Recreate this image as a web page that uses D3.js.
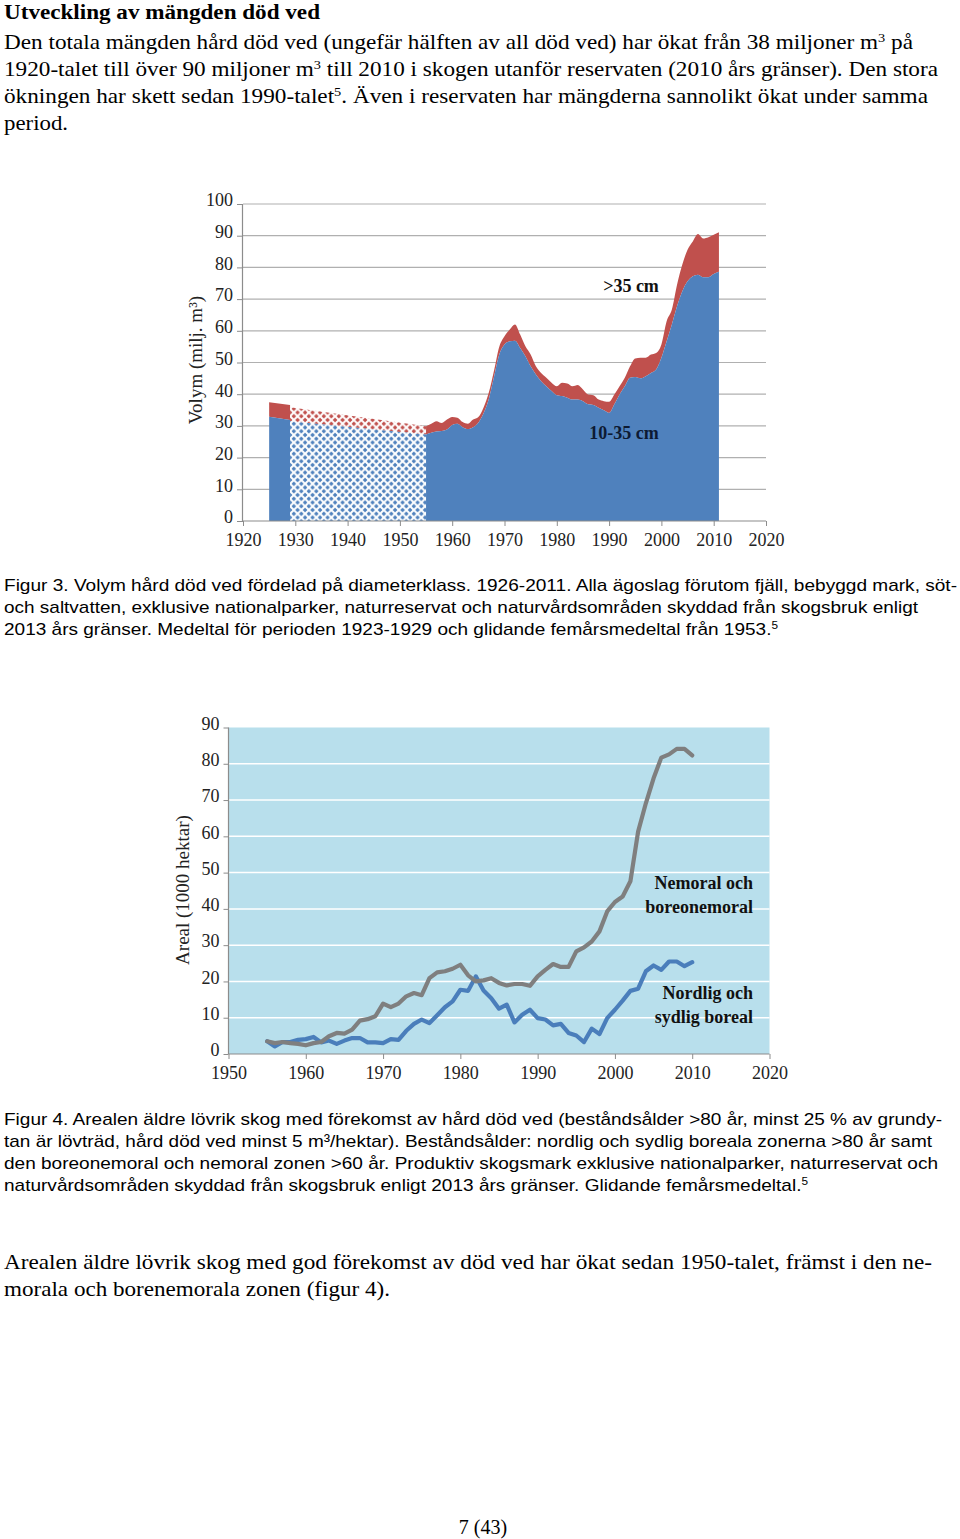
<!DOCTYPE html>
<html><head><meta charset="utf-8">
<script src="https://cdn.jsdelivr.net/npm/d3@7"></script>
<style>
html,body{margin:0;padding:0;background:#fff;}
svg{display:block;}
.serif{font-family:"Liberation Serif","Times New Roman",serif;}
.sans{font-family:"Liberation Sans",Arial,sans-serif;}
</style></head>
<body>
<script>
// ---------- Figure 3 data ----------
const fig3Years = d3.range(1955, 2012);
const fig3Small = [27.3,27.8,28.2,28.4,28.9,30.3,30.7,29.6,29.0,29.6,31.0,34.0,38.5,45.5,52.5,55.7,56.7,56.9,54.6,52.0,48.8,46.2,44.1,42.5,41.0,39.7,39.4,38.9,38.3,38.3,37.8,36.8,36.6,35.7,34.9,34.1,36.8,39.9,42.5,45.2,45.4,45.0,45.7,46.7,47.8,51.5,56.7,62.0,67.8,72.5,75.6,77.2,77.7,76.9,76.9,77.9,78.6];
const fig3Large = [2.6,2.9,3.3,2.5,3.1,2.5,1.9,1.6,1.7,2.4,1.8,1.8,2.0,2.0,2.5,2.6,3.7,5.1,4.2,3.1,3.7,2.6,2.6,2.7,2.6,2.8,4.2,4.5,4.2,4.6,3.7,3.1,3.1,2.6,2.9,3.5,3.1,2.6,2.7,3.6,5.9,6.5,5.8,5.8,5.2,4.2,6.3,4.7,6.8,8.4,10.0,11.0,12.8,12.2,12.6,12.4,12.5];
const early20sYears = [1925, 1929];
const early20sSmall = [32.9, 31.9];
const early20sLarge = [4.6, 4.7];
const gapYears = [1929, 1955];
const gapSmall = [31.5, 27.3];
const gapLarge = [4.4, 2.6];
const fig3YTicks = [0,10,20,30,40,50,60,70,80,90,100];
const fig3XTicks = [1920,1930,1940,1950,1960,1970,1980,1990,2000,2010,2020];

// ---------- Figure 4 data ----------
const fig4Years = d3.range(1955, 2011);
const nemoral = [3.5,3.0,3.3,3.0,2.8,2.4,3.0,3.3,4.9,5.8,5.6,6.7,9.2,9.6,10.4,13.9,12.9,13.9,15.9,16.8,16.2,20.9,22.5,22.8,23.5,24.6,21.7,20.0,20.3,20.9,19.6,18.9,19.3,19.3,18.8,21.4,23.2,24.8,24.0,24.0,28.3,29.4,31.0,33.8,39.3,41.9,43.4,47.6,61.3,69.1,76.0,81.7,82.6,84.1,84.1,82.3];
const boreal = [3.5,2.1,3.3,3.3,3.9,4.1,4.7,3.2,3.7,2.8,3.7,4.4,4.4,3.2,3.2,3.0,4.1,3.9,6.4,8.3,9.5,8.5,10.7,12.9,14.5,17.7,17.4,21.4,17.5,15.4,12.5,13.6,8.7,10.8,12.2,9.9,9.5,7.9,8.3,5.8,5.1,3.3,7.0,5.5,9.9,12.2,14.7,17.4,18.0,22.8,24.4,23.2,25.5,25.5,24.2,25.3];
const fig4YTicks = [0,10,20,30,40,50,60,70,80,90];
const fig4XTicks = [1950,1960,1970,1980,1990,2000,2010,2020];

const BLUE = "#4f81bd", RED = "#c0504d";

const svg = d3.select("body").append("svg").attr("width",960).attr("height",1539);

// ---------- page text ----------
function textLine(x, y, cls, size, parts, len, weight) {
  const t = svg.append("text").attr("class", cls).attr("x", x).attr("y", y)
    .attr("font-size", size).attr("fill", "#000");
  if (weight) t.attr("font-weight", weight);
  parts.forEach(p => {
    if (typeof p === "string") t.append("tspan").text(p);
    else t.append("tspan").attr("baseline-shift", "super").attr("font-size", size*0.62).text(p.sup);
  });
  if (len) t.attr("textLength", len).attr("lengthAdjust", "spacingAndGlyphs");
  return t;
}
textLine(4, 19, "serif", 20, ["Utveckling av mängden död ved"], 316, "bold");
textLine(4, 49, "serif", 21, ["Den totala mängden hård död ved (ungefär hälften av all död ved) har ökat från 38 miljoner m", {sup:"3"}, " på"], 909);
textLine(4, 76, "serif", 21, ["1920-talet till över 90 miljoner m", {sup:"3"}, " till 2010 i skogen utanför reservaten (2010 års gränser). Den stora"], 934);
textLine(4, 103, "serif", 21, ["ökningen har skett sedan 1990-talet", {sup:"5"}, ". Även i reservaten har mängderna sannolikt ökat under samma"], 924);
textLine(4, 130, "serif", 21, ["period."], 64);

textLine(4, 591, "sans", 17, ["Figur 3. Volym hård död ved fördelad på diameterklass. 1926-2011. Alla ägoslag förutom fjäll, bebyggd mark, söt-"], 953);
textLine(4, 613, "sans", 17, ["och saltvatten, exklusive nationalparker, naturreservat och naturvårdsområden skyddad från skogsbruk enligt"], 914);
textLine(4, 635, "sans", 17, ["2013 års gränser. Medeltal för perioden 1923-1929 och glidande femårsmedeltal från 1953.", {sup:"5"}], 774);

textLine(4, 1125, "sans", 17, ["Figur 4. Arealen äldre lövrik skog med förekomst av hård död ved (beståndsålder >80 år, minst 25 % av grundy-"], 938);
textLine(4, 1147, "sans", 17, ["tan är lövträd, hård död ved minst 5 m³/hektar). Beståndsålder: nordlig och sydlig boreala zonerna >80 år samt"], 928);
textLine(4, 1169, "sans", 17, ["den boreonemoral och nemoral zonen >60 år. Produktiv skogsmark exklusive nationalparker, naturreservat och"], 934);
textLine(4, 1191, "sans", 17, ["naturvårdsområden skyddad från skogsbruk enligt 2013 års gränser. Glidande femårsmedeltal.", {sup:"5"}], 804);

textLine(4, 1269, "serif", 21, ["Arealen äldre lövrik skog med god förekomst av död ved har ökat sedan 1950-talet, främst i den ne-"], 928);
textLine(4, 1296, "serif", 21, ["morala och borenemorala zonen (figur 4)."], 386);

svg.append("text").attr("class","serif").attr("x",483).attr("y",1534).attr("text-anchor","middle")
  .attr("font-size",20).text("7 (43)");

// ---------- Figure 3 ----------
const x3 = d3.scaleLinear().domain([1920, 2020]).range([243, 766]);
const y3 = d3.scaleLinear().domain([0, 100]).range([521, 204]);

const defs = svg.append("defs");
function diamondPattern(id, color) {
  const s = 7.5, r = 2.3;
  const p = defs.append("pattern").attr("id", id).attr("patternUnits","userSpaceOnUse")
    .attr("width", s).attr("height", s).attr("x", x3(1929)).attr("y", 0);
  p.append("rect").attr("width",s).attr("height",s).attr("fill","#fff");
  const d = (cx, cy) => `M${cx},${cy-r}L${cx+r},${cy}L${cx},${cy+r}L${cx-r},${cy}Z`;
  p.append("path").attr("d", d(0,0) + d(s,0) + d(0,s) + d(s,s) + d(s/2,s/2)).attr("fill", color);
}
diamondPattern("hatchBlue", BLUE);
diamondPattern("hatchRed", RED);

const g3 = svg.append("g");
g3.selectAll("line.grid").data(fig3YTicks.slice(1)).join("line")
  .attr("x1", x3(1920)).attr("x2", x3(2020)).attr("y1", d=>y3(d)).attr("y2", d=>y3(d))
  .attr("stroke","#b0b0b0").attr("stroke-width",1.2);

function stackedBands(years, small, large, fillSmall, fillLarge, curve) {
  const rows = years.map((yr,i)=>({yr, s:small[i], l:large[i]}));
  const aS = d3.area().curve(curve).x(d=>x3(d.yr)).y0(y3(0)).y1(d=>y3(d.s));
  const aL = d3.area().curve(curve).x(d=>x3(d.yr)).y0(d=>y3(d.s)).y1(d=>y3(d.s+d.l));
  g3.append("path").datum(rows).attr("d", aL).attr("fill", fillLarge);
  g3.append("path").datum(rows).attr("d", aS).attr("fill", fillSmall);
}
stackedBands(early20sYears, early20sSmall, early20sLarge, BLUE, RED, d3.curveLinear);
stackedBands(gapYears, gapSmall, gapLarge, "url(#hatchBlue)", "url(#hatchRed)", d3.curveLinear);
stackedBands(fig3Years, fig3Small, fig3Large, BLUE, RED, d3.curveMonotoneX);

const yAxis3 = d3.axisLeft(y3).tickValues(fig3YTicks).tickSize(5).tickFormat(d3.format("d"));
const xAxis3 = d3.axisBottom(x3).tickValues(fig3XTicks).tickSize(5).tickFormat(d3.format("d"));
const ya3 = svg.append("g").attr("transform",`translate(${x3(1920)-1},0)`).call(yAxis3);
const xa3 = svg.append("g").attr("transform",`translate(0,${y3(0)})`).call(xAxis3);
[ya3, xa3].forEach(a => {
  a.select(".domain").attr("stroke","#8c8c8c").attr("stroke-width",1.2);
  a.selectAll(".tick line").attr("stroke","#8c8c8c");
  a.selectAll("text").attr("class","serif").attr("font-size",18).attr("fill","#222");
});
ya3.selectAll("text").attr("x",-9).attr("dy","0.1em");
xa3.selectAll("text").attr("dy","1.05em").attr("y",6);
xa3.select(".domain").attr("d", `M${x3(1920)},0H${x3(2020)}`);

svg.append("text").attr("class","serif").attr("transform","translate(202,360) rotate(-90)")
  .attr("text-anchor","middle").attr("font-size",19).attr("fill","#222").text("Volym (milj. m³)");
svg.append("text").attr("class","serif").attr("x",631).attr("y",292).attr("text-anchor","middle")
  .attr("font-size",18).attr("font-weight","bold").attr("fill","#111").text(">35 cm");
svg.append("text").attr("class","serif").attr("x",624).attr("y",439).attr("text-anchor","middle")
  .attr("font-size",18).attr("font-weight","bold").attr("fill","#0d1a33").text("10-35 cm");

// ---------- Figure 4 ----------
const x4 = d3.scaleLinear().domain([1950, 2020]).range([228.5, 769.5]);
const y4 = d3.scaleLinear().domain([0, 90]).range([1054, 727.5]);
const g4 = svg.append("g");
g4.append("rect").attr("x", x4(1950)).attr("y", y4(90)).attr("width", x4(2020)-x4(1950))
  .attr("height", y4(0)-y4(90)).attr("fill", "#b8dfec");
g4.selectAll("line.grid").data(fig4YTicks.slice(1, -1)).join("line")
  .attr("x1", x4(1950)).attr("x2", x4(2020)).attr("y1", d=>y4(d)).attr("y2", d=>y4(d))
  .attr("stroke","#ffffff").attr("stroke-width",1.5);

const line4 = d3.line().x((d,i)=>x4(fig4Years[i])).y(d=>y4(d));
g4.append("path").datum(boreal).attr("d", line4).attr("fill","none").attr("stroke","#4a7ebb")
  .attr("stroke-width",4.2).attr("stroke-linejoin","round").attr("stroke-linecap","round");
g4.append("path").datum(nemoral).attr("d", line4).attr("fill","none").attr("stroke","#7f7f7f")
  .attr("stroke-width",4.2).attr("stroke-linejoin","round").attr("stroke-linecap","round");

const yAxis4 = d3.axisLeft(y4).tickValues(fig4YTicks).tickSize(5).tickFormat(d3.format("d"));
const xAxis4 = d3.axisBottom(x4).tickValues(fig4XTicks).tickSize(5).tickFormat(d3.format("d"));
const ya4 = svg.append("g").attr("transform",`translate(${x4(1950)},0)`).call(yAxis4);
const xa4 = svg.append("g").attr("transform",`translate(0,${y4(0)})`).call(xAxis4);
[ya4, xa4].forEach(a => {
  a.select(".domain").attr("stroke","#8c8c8c").attr("stroke-width",1.2);
  a.selectAll(".tick line").attr("stroke","#8c8c8c");
  a.selectAll("text").attr("class","serif").attr("font-size",18).attr("fill","#222");
});
ya4.selectAll("text").attr("x",-9).attr("dy","0.1em");
xa4.selectAll("text").attr("dy","1.05em").attr("y",6);
xa4.select(".domain").attr("d", `M${x4(1950)},0H${x4(2020)}`);
ya4.select(".domain").attr("d", `M0,${y4(90)}V${y4(0)}`);

svg.append("text").attr("class","serif").attr("transform","translate(189,890) rotate(-90)")
  .attr("text-anchor","middle").attr("font-size",19).attr("fill","#222").text("Areal (1000 hektar)");
[["Nemoral och",889],["boreonemoral",913],["Nordlig och",999],["sydlig boreal",1023]].forEach(([t,y])=>{
  svg.append("text").attr("class","serif").attr("x",753).attr("y",y).attr("text-anchor","end")
    .attr("font-size",18).attr("font-weight","bold").attr("fill","#111").text(t);
});
</script>
</body></html>
